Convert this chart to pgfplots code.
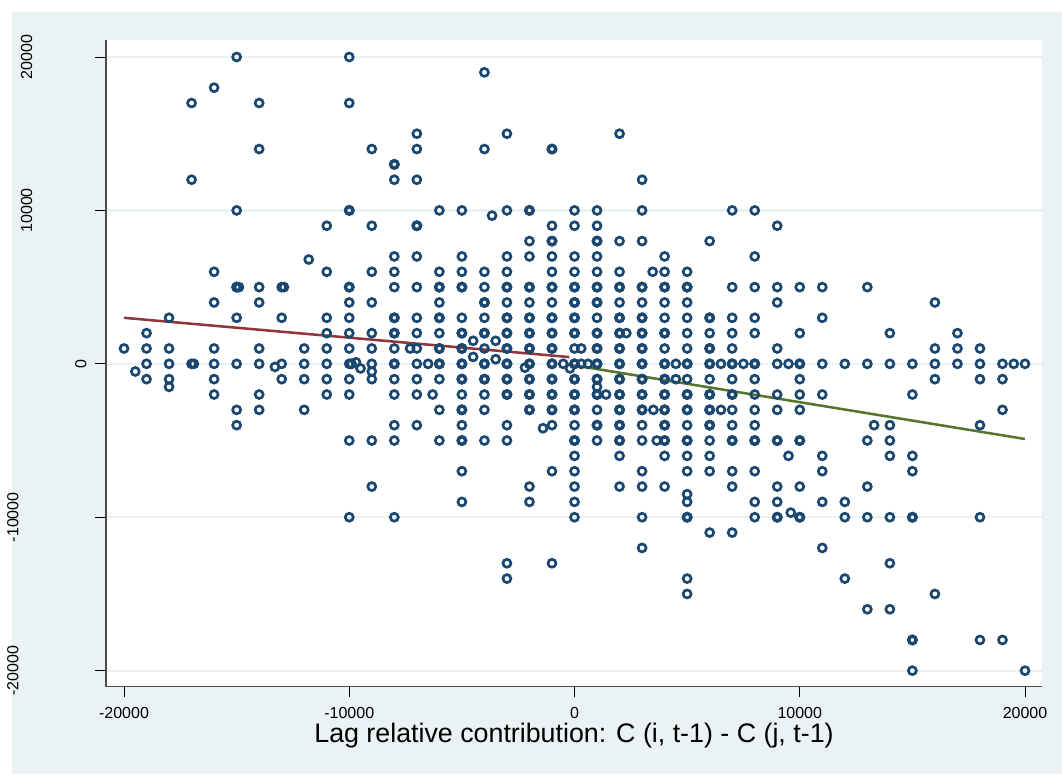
\documentclass[border=0pt]{standalone}
\usepackage{pgfplots}
\pgfplotsset{compat=1.18}
\usepackage{fontspec}
\setmainfont{Liberation Sans}
\definecolor{bgblue}{HTML}{EAF2F3}
\definecolor{navyring}{HTML}{1A476F}
\definecolor{cranb}{HTML}{90353B}
\definecolor{olive}{HTML}{55752F}
\newcommand{\yl}[2]{\raisebox{#1}[0pt][0pt]{#2}}
\begin{document}
\begin{tikzpicture}
\path[use as bounding box] (0pt,0pt) rectangle (796.5pt,580.5pt);
\fill[white] (0pt,0pt) rectangle (796.5pt,580.5pt);
\fill[bgblue] (9pt,0pt) rectangle (796.5pt,571.5pt);
\begin{axis}[
  at={(79.5pt,65.5pt)},anchor=south west,
  scale only axis,width=702pt,height=485pt,
  xmin=-20800,xmax=20755,ymin=-21044,ymax=21109,
  axis lines*=left,
  axis line style={-,draw=black!70,line width=1.1pt},
  axis background/.style={fill=white},
  scaled ticks=false,
  xtick={-20000,-10000,0,10000,20000},
  xticklabels={-20000,-10000,0,10000,20000},
  ytick={-20000,-10000,0,10000,20000},
  yticklabels={{\yl{11.1pt}{-20000}},{\yl{11.1pt}{-10000}},{\yl{-39.9pt}{0}},{\yl{0.8pt}{10000}},{\yl{0.8pt}{20000}}},
  tick style={black,line width=0.6pt},
  major tick length=8pt,
  tick align=outside,
  xticklabel style={font=\fontsize{12}{14}\selectfont,yshift=-4pt},
  yticklabel style={font=\fontsize{12}{14}\selectfont,rotate=90,anchor=south,yshift=43pt},
  ymajorgrids,
  grid style={bgblue,line width=1.7pt},
  xlabel={Lag relative contribution: C (i, t-1) - C (j, t-1)},
  xlabel style={font=\fontsize{20.1}{22}\selectfont,at={(axis description cs:0.5,0)},anchor=north,yshift=-24pt},
  clip=false,
]
\addplot[only marks,mark=o,mark size=3pt,mark options={navyring,line width=2pt}] coordinates {
(-20000,1000)(-19500,-500)
(-19000,2000)(-19000,1000)(-19000,0)(-19000,-1000)
(-18000,3000)(-18000,1000)(-18000,0)(-18000,-1000)(-18000,-1500)
(-17000,17000)(-17000,12000)(-17000,0)(-16900,0)
(-16000,18000)(-16000,6000)(-16000,4000)(-16000,1000)(-16000,0)(-16000,-1000)(-16000,-2000)
(-15000,20000)(-15000,10000)(-15000,5000)(-14900,5000)(-15000,3000)(-15000,0)(-15000,-3000)(-15000,-4000)
(-14000,17000)(-14000,14000)(-14000,5000)(-14000,4000)(-14000,1000)(-14000,0)(-14000,-2000)(-14000,-3000)
(-13000,5000)(-12900,5000)(-13000,3000)(-13000,0)(-13000,-1000)(-13300,-200)
(-12000,1000)(-12000,0)(-12000,-1000)(-12000,-3000)(-11800,6800)
(-11000,9000)(-11000,6000)(-11000,3000)(-11000,2000)(-11000,1000)(-11000,0)(-11000,-1000)(-11000,-2000)
(-10000,20000)(-10000,17000)(-10000,10000)(-10000,5000)(-10000,4000)(-10000,3000)(-10000,2000)(-10000,1000)(-10000,0)(-9900,0)(-10000,-1000)(-10000,-2000)(-10000,-5000)(-10000,-10000)
(-9700,100)(-9500,-300)
(-9000,14000)(-9000,9000)(-9000,6000)(-9000,4000)(-9000,2000)(-9000,1000)(-9000,0)(-9000,-500)(-9000,-1000)(-9000,-5000)(-9000,-8000)
(-8000,13000)(-8000,12000)(-8000,7000)(-8000,6000)(-8000,5000)(-8000,3000)(-8000,2000)(-8000,1000)(-8000,0)(-8000,-1000)(-8000,-2000)(-8000,-4000)(-8000,-5000)(-8000,-10000)
(-7300,1000)
(-7000,15000)(-7000,14000)(-7000,12000)(-7000,9000)(-7000,7000)(-7000,5000)(-7000,3000)(-7000,2000)(-7000,1000)(-7000,0)(-7000,-1000)(-7000,-2000)(-7000,-4000)
(-6500,0)(-6300,-2000)
(-6000,10000)(-6000,6000)(-6000,5000)(-6000,4000)(-6000,3000)(-6000,2000)(-6000,1000)(-6000,0)(-6000,-1000)(-6000,-3000)(-6000,-5000)
(-5000,10000)(-5000,7000)(-5000,6000)(-5000,5000)(-5000,3000)(-5000,2000)(-5000,1000)(-5000,0)(-5000,-1000)(-5000,-2000)(-5000,-3000)(-5000,-4000)(-5000,-5000)(-5000,-7000)(-5000,-9000)
(-4500,1500)(-4500,450)(-3500,1500)(-3500,300)(-3660,9660)
(-4000,19000)(-4000,14000)(-4000,6000)(-4000,5000)(-4000,4000)(-4000,3000)(-4000,2000)(-4000,1000)(-4000,0)(-4000,-1000)(-4000,-2000)(-4000,-3000)(-4000,-5000)
(-3000,15000)(-3000,10000)(-3000,7000)(-3000,6000)(-3000,5000)(-3000,4000)(-3000,3000)(-3000,2000)(-3000,1000)(-3000,0)(-3000,-1000)(-3000,-2000)(-3000,-4000)(-3000,-5000)(-3000,-13000)(-3000,-14000)
(-2000,10000)(-2000,8000)(-2000,7000)(-2000,5000)(-2000,4000)(-2000,3000)(-2000,2000)(-2000,1000)(-2000,0)(-2000,-1000)(-2000,-2000)(-2000,-3000)(-2000,-8000)(-2000,-9000)(-2200,-250)
(-1400,-4200)(-500,0)
(-1000,14000)(-1000,9000)(-1000,8000)(-1000,7000)(-1000,6000)(-1000,5000)(-1000,4000)(-1000,3000)(-1000,2000)(-1000,1000)(-1000,0)(-1000,-1000)(-1000,-2000)(-1000,-3000)(-1000,-4000)(-1000,-7000)(-1000,-13000)
(0,10000)(0,9000)(0,7000)(0,6000)(0,5000)(0,4000)(0,3000)(0,2000)(0,1000)(0,0)(0,-1000)(0,-2000)(0,-3000)(0,-4000)(0,-5000)(0,-6000)(0,-7000)(0,-8000)(0,-9000)(0,-10000)
(300,1000)(300,0)(-200,-300)(600,0)
(1000,10000)(1000,9000)(1000,8000)(1000,7000)(1000,6000)(1000,5000)(1000,4000)(1000,3000)(1000,2000)(1000,1000)(1000,0)(1000,-1000)(1000,-1500)(1000,-2000)(1000,-3000)(1000,-4000)(1000,-5000)(1400,-2000)
(2000,15000)(2000,8000)(2000,6000)(2000,5000)(2000,4000)(2000,3000)(2000,2000)(2300,2000)(2000,1000)(2000,0)(2000,-1000)(2000,-2000)(2000,-3000)(2000,-4000)(2000,-5000)(2000,-6000)(2000,-8000)
(3000,12000)(3000,10000)(3000,8000)(3000,5000)(3000,4000)(3000,3000)(3000,2000)(3000,1000)(3000,0)(3000,-1000)(3000,-2000)(3000,-3000)(3000,-4000)(3000,-5000)(3000,-7000)(3000,-8000)(3000,-10000)(3000,-12000)
(3470,6000)(3500,-3000)(3650,-5000)
(4000,7000)(4000,6000)(4000,5000)(4000,4000)(4000,3000)(4000,2000)(4000,1000)(4000,0)(4000,-1000)(4000,-2000)(4000,-3000)(4000,-4000)(4000,-5000)(4000,-6000)(4000,-8000)
(4500,0)(4500,-1000)
(5000,6000)(5000,5000)(5000,4000)(5000,3000)(5000,2000)(5000,1000)(5000,0)(5000,-1000)(5000,-2000)(5000,-3000)(5000,-4000)(5000,-5000)(5000,-6000)(5000,-7000)(5000,-8500)(5000,-9000)(5000,-10000)(5000,-14000)(5000,-15000)
(6000,8000)(6000,3000)(6000,2000)(6000,1000)(6000,0)(6000,-1000)(6000,-2000)(6000,-3000)(6000,-4000)(6000,-5000)(6000,-6000)(6000,-7000)(6000,-11000)
(6500,0)(6500,-3000)
(7000,10000)(7000,5000)(7000,3000)(7000,2000)(7000,1000)(7000,0)(7000,-1000)(7000,-2000)(7000,-3000)(7000,-4000)(7000,-5000)(7000,-7000)(7000,-8000)(7000,-11000)
(7500,0)
(8000,10000)(8000,7000)(8000,5000)(8000,3000)(8000,2000)(8000,0)(8000,-1000)(8000,-2000)(8000,-3000)(8000,-4000)(8000,-5000)(8000,-7000)(8000,-9000)(8000,-10000)
(9000,9000)(9000,5000)(9000,4000)(9000,1000)(9000,0)(9000,-2000)(9000,-3000)(9000,-5000)(9000,-8000)(9000,-9000)(9000,-10000)
(9500,0)(9500,-6000)(9600,-9700)
(10000,5000)(10000,2000)(10000,0)(10000,-1000)(10000,-2000)(10000,-3000)(10000,-5000)(10000,-8000)(10000,-10000)
(11000,5000)(11000,3000)(11000,0)(11000,-2000)(11000,-6000)(11000,-7000)(11000,-9000)(11000,-12000)
(12000,0)(12000,-9000)(12000,-10000)(12000,-14000)
(13000,5000)(13000,0)(13000,-5000)(13000,-8000)(13000,-10000)(13000,-16000)(13300,-4000)
(14000,2000)(14000,0)(14000,-4000)(14000,-5000)(14000,-6000)(14000,-10000)(14000,-13000)(14000,-16000)
(15000,0)(15000,-2000)(15000,-6000)(15000,-7000)(15000,-10000)(15000,-18000)(15000,-20000)
(16000,4000)(16000,1000)(16000,0)(16000,-1000)(16000,-15000)
(17000,2000)(17000,1000)(17000,0)
(18000,1000)(18000,0)(18000,-1000)(18000,-4000)(18000,-10000)(18000,-18000)
(19000,0)(19000,-1000)(19000,-3000)(19000,-18000)
(19500,0)(20000,0)(20000,-20000)
};
% near-coincident observations that thicken the rings in the dense block
\addplot[only marks,mark=o,mark size=2.8pt,mark options={navyring,line width=2.5pt}] coordinates {
(-15000,5000)(-10000,10000)(-10000,5000)(-8000,13000)(-8000,3000)(-8000,2000)(-8000,0)(-7000,9000)(-2000,10000)(-1000,14000)(15000,-18000)
(-6000,5000)(-6000,3000)(-6000,1000)(-6000,0)
(-5000,5000)(-5000,2000)(-5000,1000)(-5000,0)(-5000,-1000)(-5000,-3000)(-5000,-5000)
(-4000,4000)(-4000,2000)(-4000,0)(-4000,-1000)
(-3000,5000)(-3000,3000)(-3000,2000)(-3000,1000)(-3000,0)(-3000,-1000)(-3000,-2000)
(-2000,5000)(-2000,3000)(-2000,2000)(-2000,1000)(-2000,0)(-2000,-1000)(-2000,-2000)(-2000,-3000)
(-1000,8000)(-1000,5000)(-1000,3000)(-1000,2000)(-1000,1000)(-1000,0)(-1000,-1000)(-1000,-2000)(-1000,-3000)
(0,5000)(0,4000)(0,3000)(0,2000)(0,0)(0,-1000)(0,-2000)(0,-3000)(0,-5000)
(1000,8000)(1000,5000)(1000,4000)(1000,2000)(1000,1000)(1000,0)(1000,-1000)(1000,-2000)(1000,-4000)
(2000,5000)(2000,3000)(2000,2000)(2000,1000)(2000,0)(2000,-1000)(2000,-2000)(2000,-3000)(2000,-4000)(2000,-5000)
(3000,5000)(3000,3000)(3000,2000)(3000,1000)(3000,0)(3000,-1000)(3000,-2000)(3000,-3000)
(4000,5000)(4000,2000)(4000,0)(4000,-1000)(4000,-2000)(4000,-3000)(4000,-4000)(4000,-5000)
(5000,5000)(5000,0)(5000,-2000)(5000,-3000)(5000,-5000)(5000,-10000)
(6000,3000)(6000,1000)(6000,0)(6000,-2000)(6000,-3000)(6000,-4000)
(7000,0)(7000,-2000)(7000,-5000)(8000,0)(8000,-5000)(9000,-5000)(9000,-10000)(10000,0)(10000,-5000)(10000,-10000)(15000,-10000)
};
\addplot[cranb,line width=1.9pt] coordinates {(-20000,3000)(-230,440)};
\addplot[olive,line width=1.9pt] coordinates {(0,-100)(20000,-4900)};
\end{axis}
\end{tikzpicture}
\end{document}
